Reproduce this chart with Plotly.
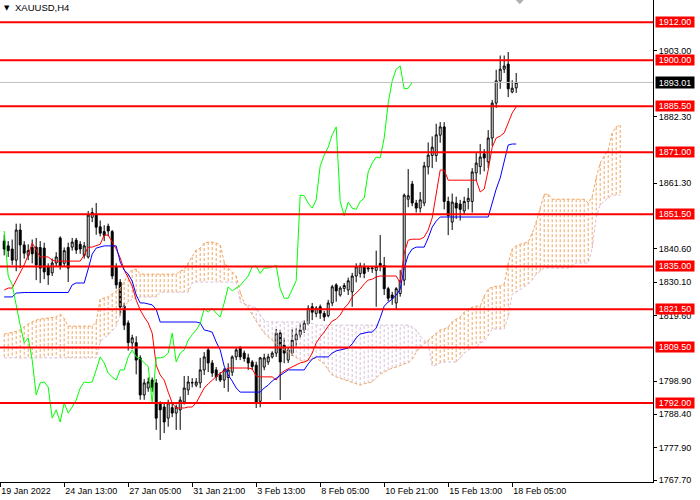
import plotly.graph_objs as go

# H4 candles, bar 0 = first full bar at the left edge
open_ = [1843, 1841.5, 1840.5, 1837, 1846.5, 1841.8, 1838.5, 1841, 1841.1, 1841,
         1840.8, 1834.8, 1833, 1836.1, 1844, 1836, 1841, 1841.1, 1843.3, 1842,
         1838.5, 1838, 1850.5, 1851.5, 1847.5, 1846, 1847.7, 1846, 1834.8, 1830,
         1822.5, 1817.2, 1810.9, 1811, 1806.2, 1794.5, 1796.7, 1799.2, 1798.3, 1792,
         1790.7, 1787.2, 1790.5, 1788.8, 1789.8, 1792.3, 1796.1, 1798.3, 1797.6, 1798.3,
         1802.4, 1808.7, 1804.6, 1802.4, 1800.8, 1799.2, 1800, 1801.7, 1806.5, 1809.3,
         1807.7, 1806.2, 1804.9, 1803.9, 1792.5, 1803.3, 1804.9, 1806.5, 1807.7, 1814,
         1810.2, 1805.5, 1807.7, 1811.8, 1813.5, 1815, 1817, 1822.3, 1820.2, 1822.3,
         1820.2, 1819.5, 1823.5, 1829.2, 1826, 1828.1, 1827.6, 1827, 1832, 1832.8,
         1834.9, 1834.2, 1834.3, 1833.8, 1836, 1835.3, 1828, 1826, 1823.5, 1826.5,
         1830.7, 1856.2, 1861, 1855, 1853.4, 1855, 1866.4, 1870, 1870, 1876.4,
         1879, 1855.5, 1849, 1855, 1854.7, 1852.5, 1855.5, 1855.5, 1864.5, 1866.5,
         1870.5, 1868, 1875.5, 1886.5, 1893.5, 1897.2, 1898.8, 1890, 1891.3]
high = [1845, 1843, 1843.5, 1848.5, 1848.5, 1843, 1842, 1843.5, 1844, 1843,
        1842.5, 1836, 1837.5, 1839.5, 1844.5, 1841, 1842.5, 1844, 1844, 1843,
        1842.7, 1852.5, 1853.5, 1855, 1849.5, 1848, 1848.5, 1846.5, 1836, 1831,
        1823.5, 1818, 1813.5, 1813, 1807, 1799.5, 1800, 1800, 1799.5, 1792.5,
        1792, 1793, 1792, 1791.5, 1794, 1800.5, 1800.5, 1799.8, 1799.8, 1806.2,
        1808, 1809.3, 1805.5, 1803.3, 1801.7, 1803, 1804.5, 1807, 1809.6, 1809.9,
        1808.5, 1807.5, 1805.5, 1805, 1806.5, 1807.5, 1807.5, 1808.3, 1815.3, 1815,
        1812.5, 1809.5, 1815.3, 1815.5, 1817, 1818, 1822.8, 1823.5, 1822.5, 1823,
        1821, 1824.5, 1829.2, 1829.7, 1828.8, 1829.8, 1831.5, 1833, 1836, 1836.2,
        1836, 1835, 1835, 1840, 1844.9, 1838, 1828.6, 1827, 1828.5, 1833.9,
        1858, 1865.7, 1862, 1856, 1858.5, 1868, 1874.1, 1876, 1880, 1880.5,
        1880.5, 1857, 1858, 1857, 1856, 1857, 1859.7, 1866, 1871, 1873.6,
        1872, 1878, 1887.5, 1897, 1901.5, 1901.5, 1902.6, 1893.7, 1896]
low = [1838.5, 1838, 1835.5, 1833.5, 1834.5, 1837.5, 1837, 1836, 1830.7, 1829.8,
       1831, 1829.2, 1832, 1835, 1834, 1835, 1830.1, 1840, 1839, 1839,
       1837.5, 1837.5, 1849, 1845, 1844.5, 1843, 1844.5, 1831, 1828, 1819.5,
       1815, 1808.5, 1809, 1801, 1793, 1793, 1795.5, 1795.5, 1783.5, 1780.3,
       1782.5, 1784.5, 1787.5, 1783.5, 1783.5, 1791.5, 1794.5, 1796.9, 1797, 1796.7,
       1800.8, 1801.7, 1800.2, 1799, 1798.6, 1796.7, 1795.5, 1800.5, 1805.5, 1805.5,
       1805, 1802.4, 1802.4, 1790.4, 1790.6, 1802.3, 1804, 1806, 1806.5, 1792.9,
       1804.5, 1804.6, 1806.8, 1809.5, 1812.5, 1814, 1816.5, 1818.1, 1819, 1818.5,
       1817.8, 1819, 1822.5, 1823.9, 1825.5, 1827, 1826, 1822.3, 1830, 1831.5,
       1831.3, 1833.3, 1833, 1822.3, 1833.5, 1826, 1824, 1822.9, 1821.3, 1825.5,
       1829, 1853.7, 1854, 1852, 1852, 1854, 1864, 1866, 1868, 1874,
       1853, 1844.9, 1846.5, 1850, 1849.5, 1851.5, 1853, 1852, 1862, 1864,
       1865, 1866, 1873, 1885, 1891, 1896, 1888.4, 1889.6, 1889.7]
close = [1840.5, 1840, 1837, 1846.5, 1841.8, 1839.2, 1840, 1839, 1835.5, 1834.5,
         1833.3, 1832.3, 1836.1, 1838, 1835, 1840, 1834.5, 1842.7, 1840.2, 1840.5,
         1841.5, 1851.2, 1852, 1847.4, 1845.5, 1844.8, 1846.2, 1832, 1829.2, 1822.2,
         1816.5, 1811, 1812.5, 1805.5, 1794.5, 1798.3, 1798.6, 1797, 1787.2, 1789.8,
         1786, 1792, 1788.8, 1790.7, 1792.9, 1796.7, 1798.6, 1798.4, 1798.6, 1802.4,
         1806.5, 1804.6, 1801.4, 1800.2, 1799.2, 1802.4, 1802.4, 1806.5, 1808.7, 1806.5,
         1806, 1804.6, 1803.5, 1792, 1806.2, 1806.2, 1806.5, 1807.7, 1814, 1804.9,
         1807.7, 1808.7, 1811.8, 1813.5, 1815, 1817, 1821.8, 1820.6, 1821.9, 1820.3,
         1819.1, 1823.5, 1828.6, 1827.3, 1828.2, 1829, 1830.5, 1832, 1834.9, 1835.2,
         1832.8, 1834.5, 1834.5, 1835, 1835.3, 1828, 1825, 1825, 1828, 1830.5,
         1857.5, 1857.3, 1855, 1853.4, 1856, 1866.7, 1870.1, 1872.6, 1876.5, 1879,
         1855.5, 1851, 1855.3, 1853.4, 1853, 1855.5, 1856.5, 1864.8, 1867.6, 1869.5,
         1869.2, 1875.5, 1886.5, 1893.5, 1897.2, 1898.2, 1891, 1891.2, 1893.01]

# Ichimoku lines
tenkan = [1827.6, 1828.2, 1828.2, 1830.7, 1833.0, 1835.5, 1838.6, 1842.4, 1840.2, 1838.0,
          1838.0, 1838.0, 1837.0, 1836.7, 1836.7, 1836.7, 1836.7, 1836.7, 1836.7, 1836.7,
          1838.6, 1841.1, 1841.1, 1841.5, 1842.0, 1844.9, 1844.9, 1842.7, 1840.5, 1837.7,
          1833.9, 1831.4, 1828.8, 1824.4, 1821.3, 1819.1, 1817.2, 1814.0, 1803.9, 1800.8,
          1799.2, 1795.4, 1792.0, 1790.4, 1790.4, 1790.4, 1790.7, 1790.7, 1792.0, 1794.5,
          1796.7, 1798.0, 1799.2, 1800.2, 1801.4, 1802.1, 1803.0, 1803.0, 1803.0, 1803.0,
          1803.0, 1803.0, 1802.7, 1800.5, 1800.2, 1800.2, 1800.2, 1800.2, 1799.2, 1801.1,
          1802.1, 1802.7, 1803.3, 1803.9, 1804.6, 1804.9, 1805.5, 1807.7, 1810.9, 1812.8,
          1814.3, 1816.2, 1817.8, 1818.4, 1819.7, 1821.9, 1823.2, 1825.4, 1826.6, 1827.9,
          1829.5, 1830.7, 1831.0, 1831.7, 1832.0, 1832.0, 1832.0, 1832.0, 1832.0, 1829.8,
          1839.2, 1843.3, 1843.6, 1843.6, 1843.6, 1844.3, 1846.5, 1850.3, 1857.5, 1865.4,
          1865.4, 1862.2, 1862.2, 1862.2, 1862.2, 1862.2, 1862.2, 1862.2, 1862.2, 1858.5,
          1859.4, 1865.4, 1872.6, 1875.5, 1876.1, 1877.1, 1880.2, 1883.4, 1885.3]
kijun = [1825.4, 1825.4, 1825.4, 1826.6, 1826.8, 1826.8, 1826.8, 1826.8, 1826.8, 1826.8,
         1826.8, 1826.8, 1826.8, 1826.8, 1826.8, 1826.8, 1826.8, 1829.2, 1829.8, 1829.8,
         1829.8, 1834.2, 1838.9, 1840.8, 1841.1, 1841.5, 1841.5, 1841.5, 1841.5, 1836.4,
         1833.9, 1832.6, 1830.4, 1826.0, 1823.5, 1823.5, 1823.2, 1822.9, 1821.5, 1817.5,
         1817.5, 1817.5, 1817.5, 1817.5, 1817.5, 1817.5, 1817.5, 1817.5, 1817.5, 1817.2,
         1815.0, 1814.7, 1814.3, 1811.2, 1808.7, 1803.6, 1800.8, 1798.9, 1796.7, 1795.4,
         1795.4, 1795.4, 1795.4, 1795.4, 1795.4, 1796.7, 1797.6, 1798.9, 1799.8, 1800.8,
         1801.7, 1802.4, 1802.4, 1802.4, 1802.4, 1802.4, 1804.3, 1805.8, 1806.5, 1806.5,
         1806.5, 1806.5, 1807.7, 1808.4, 1808.7, 1809.0, 1809.3, 1810.6, 1812.5, 1813.7,
         1814.0, 1814.3, 1814.3, 1815.6, 1818.8, 1822.5, 1823.8, 1824.7, 1826.0, 1827.9,
         1834.5, 1838.6, 1840.5, 1841.1, 1841.1, 1841.1, 1844.0, 1847.4, 1849.3, 1850.6,
         1850.6, 1850.6, 1850.6, 1850.6, 1850.6, 1850.6, 1850.6, 1850.6, 1850.6, 1850.6,
         1850.6, 1850.6, 1855.0, 1859.4, 1862.9, 1868.5, 1873.3, 1873.6, 1873.6]
chikou_shift = 26

# cloud runs 26 bars past the last candle
span_a = [1813.7, 1813.9, 1814.2, 1814.6, 1815.0, 1816.0, 1816.9, 1817.5, 1818.1, 1818.4,
          1818.6, 1818.8, 1818.8, 1819.1, 1820.0, 1818.6, 1816.2, 1816.2, 1816.2, 1816.2,
          1816.2, 1816.2, 1816.2, 1817.5, 1824.7, 1825.1, 1825.4, 1826.3, 1827.3, 1828.2,
          1830.1, 1832.6, 1833.9, 1834.2, 1832.6, 1832.6, 1832.6, 1832.6, 1832.6, 1832.6,
          1832.6, 1832.6, 1832.6, 1832.6, 1833.6, 1833.9, 1836.1, 1838.0, 1840.2, 1840.8,
          1842.4, 1842.7, 1842.7, 1842.4, 1841.8, 1836.4, 1834.5, 1833.3, 1832.0, 1827.0,
          1823.5, 1821.9, 1819.7, 1817.8, 1815.9, 1814.0, 1812.8, 1811.8, 1810.6, 1809.6,
          1808.7, 1808.0, 1807.1, 1806.2, 1805.5, 1804.9, 1805.2, 1805.8, 1806.2, 1805.2,
          1804.3, 1802.4, 1800.8, 1800.2, 1799.8, 1799.2, 1798.9, 1798.6, 1798.0, 1797.6,
          1798.0, 1798.3, 1798.6, 1799.8, 1801.1, 1801.7, 1802.4, 1803.0, 1803.3, 1803.9,
          1804.3, 1804.6, 1805.8, 1808.0, 1809.6, 1810.6, 1811.8, 1813.1, 1814.0, 1815.0,
          1815.3, 1815.9, 1817.5, 1818.4, 1819.1, 1820.6, 1821.6, 1822.2, 1822.5, 1822.5,
          1825.7, 1827.9, 1828.5, 1828.8, 1828.8, 1829.5, 1836.0, 1840.5, 1841.5, 1842.0,
          1842.4, 1842.7, 1845.5, 1849.0, 1853.4, 1857.8, 1857.8, 1856.2, 1856.2, 1856.2,
          1856.2, 1856.2, 1856.2, 1856.2, 1856.2, 1856.2, 1855.0, 1857.0, 1863.0, 1867.6,
          1869.8, 1871.7, 1877.1, 1879.0, 1879.6]
span_b = [1806.2, 1806.2, 1806.2, 1806.2, 1806.2, 1806.2, 1806.2, 1806.2, 1806.2, 1806.2,
          1806.2, 1806.2, 1806.2, 1806.2, 1806.2, 1806.2, 1806.2, 1806.2, 1806.2, 1806.2,
          1806.2, 1806.2, 1806.2, 1806.2, 1811.2, 1812.5, 1813.4, 1814.7, 1816.2, 1819.7,
          1822.5, 1823.8, 1824.7, 1825.1, 1825.4, 1825.4, 1825.4, 1825.4, 1825.4, 1826.9,
          1826.9, 1826.9, 1826.9, 1826.9, 1826.9, 1826.9, 1826.9, 1829.8, 1830.1, 1830.1,
          1830.1, 1830.1, 1830.1, 1830.1, 1830.1, 1830.1, 1830.1, 1830.1, 1830.1, 1823.8,
          1823.2, 1822.9, 1822.5, 1821.9, 1819.7, 1818.1, 1817.5, 1817.5, 1817.5, 1817.5,
          1817.5, 1817.5, 1817.5, 1817.5, 1817.5, 1817.5, 1817.5, 1817.0, 1816.5, 1816.5,
          1816.5, 1816.5, 1816.5, 1816.5, 1816.5, 1816.5, 1816.5, 1816.5, 1816.5, 1816.5,
          1816.5, 1816.5, 1816.5, 1816.5, 1816.5, 1816.5, 1816.5, 1816.5, 1816.5, 1816.5,
          1816.5, 1816.5, 1815.9, 1815.0, 1813.1, 1811.8, 1810.6, 1803.6, 1803.9, 1804.6,
          1804.9, 1804.9, 1804.9, 1804.9, 1806.2, 1807.7, 1808.7, 1809.3, 1809.6, 1810.9,
          1811.5, 1813.1, 1815.3, 1815.3, 1815.3, 1815.3, 1819.1, 1826.3, 1826.9, 1827.6,
          1828.5, 1829.5, 1830.7, 1832.6, 1833.6, 1834.5, 1834.5, 1834.5, 1834.5, 1834.5,
          1834.5, 1834.5, 1834.8, 1836.1, 1836.1, 1836.1, 1836.1, 1840.8, 1850.6, 1854.4,
          1855.6, 1856.6, 1857.5, 1857.5, 1857.5]

levels = [1912.0, 1900.0, 1885.5, 1871.0, 1851.5, 1835.0, 1821.5, 1809.5, 1792.0]
current_price = 1893.01

price_ticks = [1903.0, 1882.3, 1861.3, 1840.6, 1830.1, 1819.6,
               1798.9, 1788.4, 1777.9, 1767.7]
time_tick_bars = [-1, 15, 31, 47, 63, 79, 95, 111, 127]
time_tick_labels = ['19 Jan 2022', '24 Jan 13:00', '27 Jan 05:00', '31 Jan 21:00',
                    '3 Feb 13:00', '8 Feb 05:00', '10 Feb 21:00', '15 Feb 13:00',
                    '18 Feb 05:00']

UP_KUMO = '#F4A460'
DOWN_KUMO = '#D8BFD8'
FONT = 'Liberation Sans'


def hatch(color_up):
    xs, ys = [], []
    for i, (a, b) in enumerate(zip(span_a, span_b)):
        if (a >= b) == color_up:
            xs += [i, i, None]
            ys += [a, b, None]
    return xs, ys


def make_plot():
    bars = list(range(len(close)))
    cloud_bars = list(range(len(span_a)))
    traces = []

    for up, color in [(True, UP_KUMO), (False, DOWN_KUMO)]:
        hx, hy = hatch(up)
        traces.append(go.Scatter(x=hx, y=hy, mode='lines',
                                 line=dict(color=color, width=1, dash='3px,2px')))
    traces.append(go.Scatter(x=cloud_bars, y=span_b, mode='lines',
                             line=dict(color=DOWN_KUMO, width=1, dash='3px,2px')))
    traces.append(go.Scatter(x=cloud_bars, y=span_a, mode='lines',
                             line=dict(color=UP_KUMO, width=1, dash='3px,2px')))

    traces.append(go.Candlestick(
        x=bars, open=open_, high=high, low=low, close=close,
        increasing=dict(line=dict(color='black', width=1), fillcolor='white'),
        decreasing=dict(line=dict(color='black', width=1), fillcolor='black'),
        whiskerwidth=0,
    ))

    traces.append(go.Scatter(x=bars, y=tenkan, mode='lines',
                             line=dict(color='#FF0000', width=1)))
    traces.append(go.Scatter(x=bars, y=kijun, mode='lines',
                             line=dict(color='#0000FF', width=1)))
    traces.append(go.Scatter(x=bars[:len(close) - chikou_shift], y=close[chikou_shift:],
                             mode='lines', line=dict(color='#00FF00', width=1)))

    shapes = [dict(type='line', xref='paper', x0=0, x1=1, yref='y',
                   y0=current_price, y1=current_price,
                   line=dict(color='#C0C0C0', width=1))]
    for lv in levels:
        shapes.append(dict(type='line', xref='paper', x0=0, x1=1, yref='y',
                           y0=lv, y1=lv, line=dict(color='#FF0000', width=2)))
    # shift marker at the top
    shapes.append(dict(type='path', xref='paper', yref='paper',
                       path='M 0.790 1 L 0.802 1 L 0.796 0.991 Z',
                       fillcolor='#B0B0B0', line=dict(width=0)))

    annotations = []
    for lv in levels:
        annotations.append(dict(
            x=1, xref='paper', xanchor='left', xshift=2,
            y=lv, yref='y', text='%.2f' % lv, showarrow=False,
            font=dict(family=FONT, size=9, color='white'),
            bgcolor='#FF0000', width=38, height=10, borderpad=0))
    annotations.append(dict(
        x=1, xref='paper', xanchor='left', xshift=2,
        y=current_price, yref='y', text='%.2f' % current_price, showarrow=False,
        font=dict(family=FONT, size=9, color='white'),
        bgcolor='#000000', width=38, height=11, borderpad=0))
    annotations.append(dict(
        x=0, xref='paper', xanchor='left', xshift=2, y=1, yref='paper',
        yanchor='top', yshift=-2, text='▼', showarrow=False,
        font=dict(family='DejaVu Sans', size=7, color='black')))
    annotations.append(dict(
        x=0, xref='paper', xanchor='left', xshift=13, y=1, yref='paper',
        yanchor='top', yshift=0, text='XAUUSD,H4', showarrow=False,
        font=dict(family=FONT, size=9.5, color='black')))

    layout = go.Layout(
        width=700,
        height=500,
        showlegend=False,
        hovermode=False,
        paper_bgcolor='white',
        plot_bgcolor='white',
        margin=go.layout.Margin(t=0, b=18, l=0, r=47),
        shapes=shapes,
        annotations=annotations,
        xaxis=go.layout.XAxis(
            range=[-1.05, 162.2],
            autorange=False,
            showgrid=False,
            zeroline=False,
            showline=True,
            linecolor='black',
            linewidth=1,
            ticks='outside',
            ticklen=4,
            tickcolor='black',
            tickvals=time_tick_bars,
            ticktext=time_tick_labels,
            ticklabelposition='outside right',
            tickfont=dict(family=FONT, size=9, color='black'),
            rangeslider=dict(visible=False),
            fixedrange=True
        ),
        yaxis=go.layout.YAxis(
            side='right',
            range=[1767.07, 1919.0],
            autorange=False,
            showgrid=False,
            zeroline=False,
            showline=True,
            linecolor='black',
            linewidth=1,
            ticks='outside',
            ticklen=3,
            tickcolor='black',
            tickvals=price_ticks,
            tickformat='.2f',
            tickfont=dict(family=FONT, size=9, color='black'),
            fixedrange=True
        )
    )

    fig = go.Figure(data=traces, layout=layout)
    # page margin off so the 700x500 figure fills the window exactly
    fig.write_html('out.html', config={'displayModeBar': False},
                   post_script="document.body.style.margin='0';")


if __name__ == '__main__':
    make_plot()
